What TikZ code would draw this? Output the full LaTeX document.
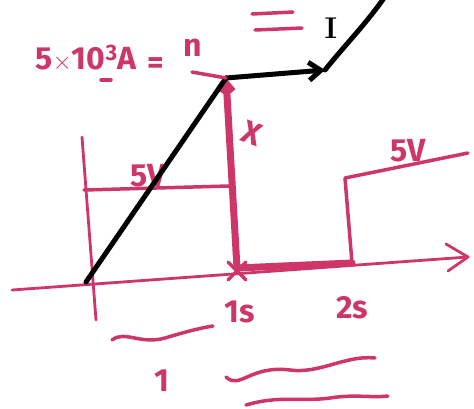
\documentclass[tikz,border=0pt]{standalone}
\usepackage{fontspec}
\setsansfont{Fira Sans}
\usetikzlibrary{arrows.meta}
\definecolor{ink}{RGB}{206,54,106}

\begin{document}
\begin{tikzpicture}[x=1pt,y={(0pt,-1pt)},line cap=round,line join=round,
    pen/.style={ink,line width=3.5pt},
    heavypen/.style={ink,line width=7pt},
    blackpen/.style={black,line width=5pt},
    scrawl/.style={ink,font=\sffamily\bfseries\fontsize{32}{32}\selectfont,inner sep=0pt}]
  \useasboundingbox (0,0) rectangle (474,408);

  % key points
  \coordinate (origin) at (86,282);
  \coordinate (corner) at (226,78);
  \coordinate (tip) at (325,70);
  \coordinate (foot) at (237,268);
  \coordinate (riser) at (352,263);

  % axes
  \draw[pen,line width=2.8pt] (12,290) -- (468,257);
  \draw[pen,line width=2.8pt] (446,244) -- (468,257) -- (448,271);
  \draw[pen,line width=2.8pt] (82,137) -- (96,320);

  % 5V level before 1s
  \draw[pen] (84,190) -- (229,186);
  \node[scrawl] (lowV) at (148,176) {5V};

  % current jump, kept at 1s
  \draw[heavypen,-{Straight Barb[length=8pt,width=12pt]}] (foot) -- (corner);
  \draw[heavypen] (foot) -- (riser);
  \draw[pen] (foot) ++(-9,-6) -- ++(18,18) ++(0,-18) -- ++(-18,18);
  \draw[pen] (riser) -- (345,178) -- (468,153);
  \node[scrawl] (highV) at (408,151) {5V};
  \node[scrawl,rotate=-20] (cross) at (252,133) {X};

  % time labels
  \node[scrawl] (one) at (240,312) {1s};
  \node[scrawl] (two) at (352,308) {2s};

  % current line
  \draw[blackpen] (origin) -- (corner);
  \draw[blackpen,-{Straight Barb[length=12pt,width=18pt]}] (corner) -- (tip);
  \draw[blackpen] (tip) .. controls (345,45) and (365,25) .. (384,-2);
  \node[black,font=\rmfamily\bfseries\fontsize{30}{30}\selectfont,inner sep=0pt] (cur) at (331,28) {I};

  % top label
  \node[scrawl] (amp) at (86,58) {5$\times$10\textsuperscript{3}A};
  \node[scrawl] (eq) at (156,66) {=};
  \node[scrawl] (n) at (193,48) {n};
  \draw[pen] (101,80) -- (111,80);
  \draw[pen] (192,72) -- (corner);
  \draw[pen] (252,14) -- (293,12);
  \draw[pen] (255,30) -- (302,28);

  % scribbles below
  \draw[pen] (112,340) .. controls (125,330) and (140,345) .. (165,338)
    .. controls (185,332) and (200,328) .. (213,326);
  \node[scrawl] (unit) at (162,381) {1};
  \draw[pen] (226,377) .. controls (240,390) and (250,365) .. (290,370)
    .. controls (320,374) and (345,355) .. (375,358);
  \draw[pen] (246,405) .. controls (280,395) and (300,402) .. (330,398)
    .. controls (355,394) and (370,398) .. (388,396);
\end{tikzpicture}
\end{document}
